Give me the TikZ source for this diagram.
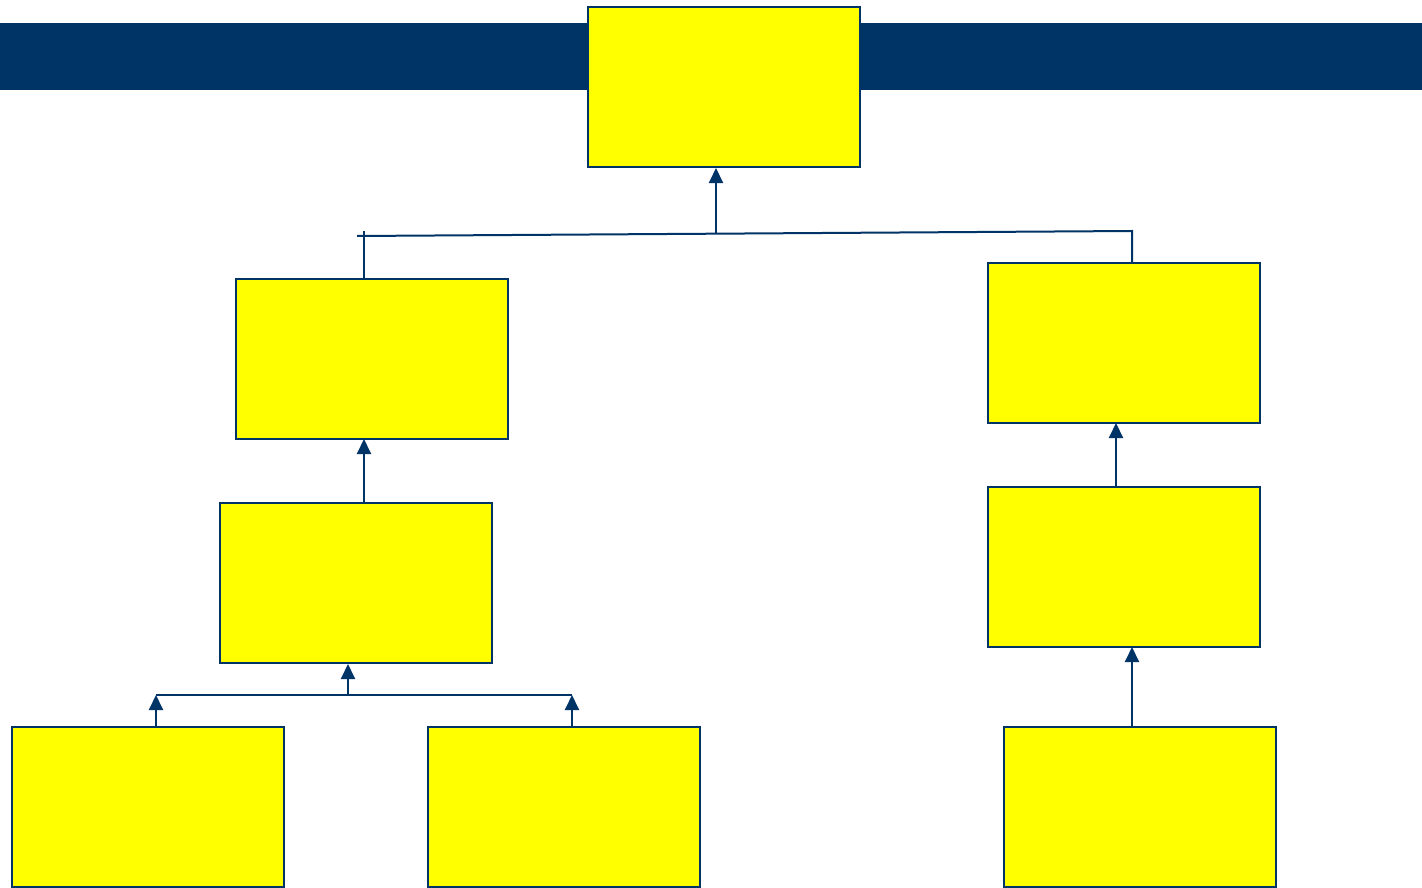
\documentclass[tikz,border=0pt]{standalone}
\usetikzlibrary{arrows.meta}
\definecolor{navy}{RGB}{0,51,102}
\definecolor{boxyellow}{RGB}{255,255,0}
\begin{document}
\begin{tikzpicture}[x=1pt,y=-1pt,
  ybox/.style={draw=navy,fill=boxyellow,line width=2pt,minimum width=272pt,minimum height=160pt,inner sep=0pt},
  conn/.style={draw=navy,line width=2pt},
  arr/.style={conn,-{Triangle[width=14pt,length=15pt]}}]
\useasboundingbox (0,0) rectangle (1422,888);
\fill[navy] (0,23) rectangle (1422,90);
\node[ybox] (top) at (724,87) {};
\node[ybox] (a) at (372,359) {};
\node[ybox] (b) at (1124,343) {};
\node[ybox] (c) at (356,583) {};
\node[ybox] (d) at (1124,567) {};
\node[ybox] (e) at (148,807) {};
\node[ybox] (f) at (564,807) {};
\node[ybox] (g) at (1140,807) {};
% top junction
\coordinate (jl) at (357,236);
\coordinate (jr) at (1132,231);
\coordinate (jm) at (716,233.5);
\coordinate (tick) at (364,231);
\draw[conn] (jl) -- (jr) -- (jr |- b.north);
\draw[conn] (tick) -- (tick |- a.north);
\draw[arr] (jm) -- (jm |- top.south);
% chains
\draw[arr] (364,503) -- (364,439);
\draw[arr] (1116,487) -- (1116,423);
\draw[arr] (1132,727) -- (1132,647);
% bottom-left junction
\coordinate (bl) at (156,695);
\coordinate (br) at (572,695);
\coordinate (bm) at (348,695);
\draw[conn] (bl) -- (br);
\draw[arr] (bm) -- (bm |- c.south);
\draw[arr] (bl |- e.north) -- (bl);
\draw[arr] (br |- f.north) -- (br);
\end{tikzpicture}
\end{document}
